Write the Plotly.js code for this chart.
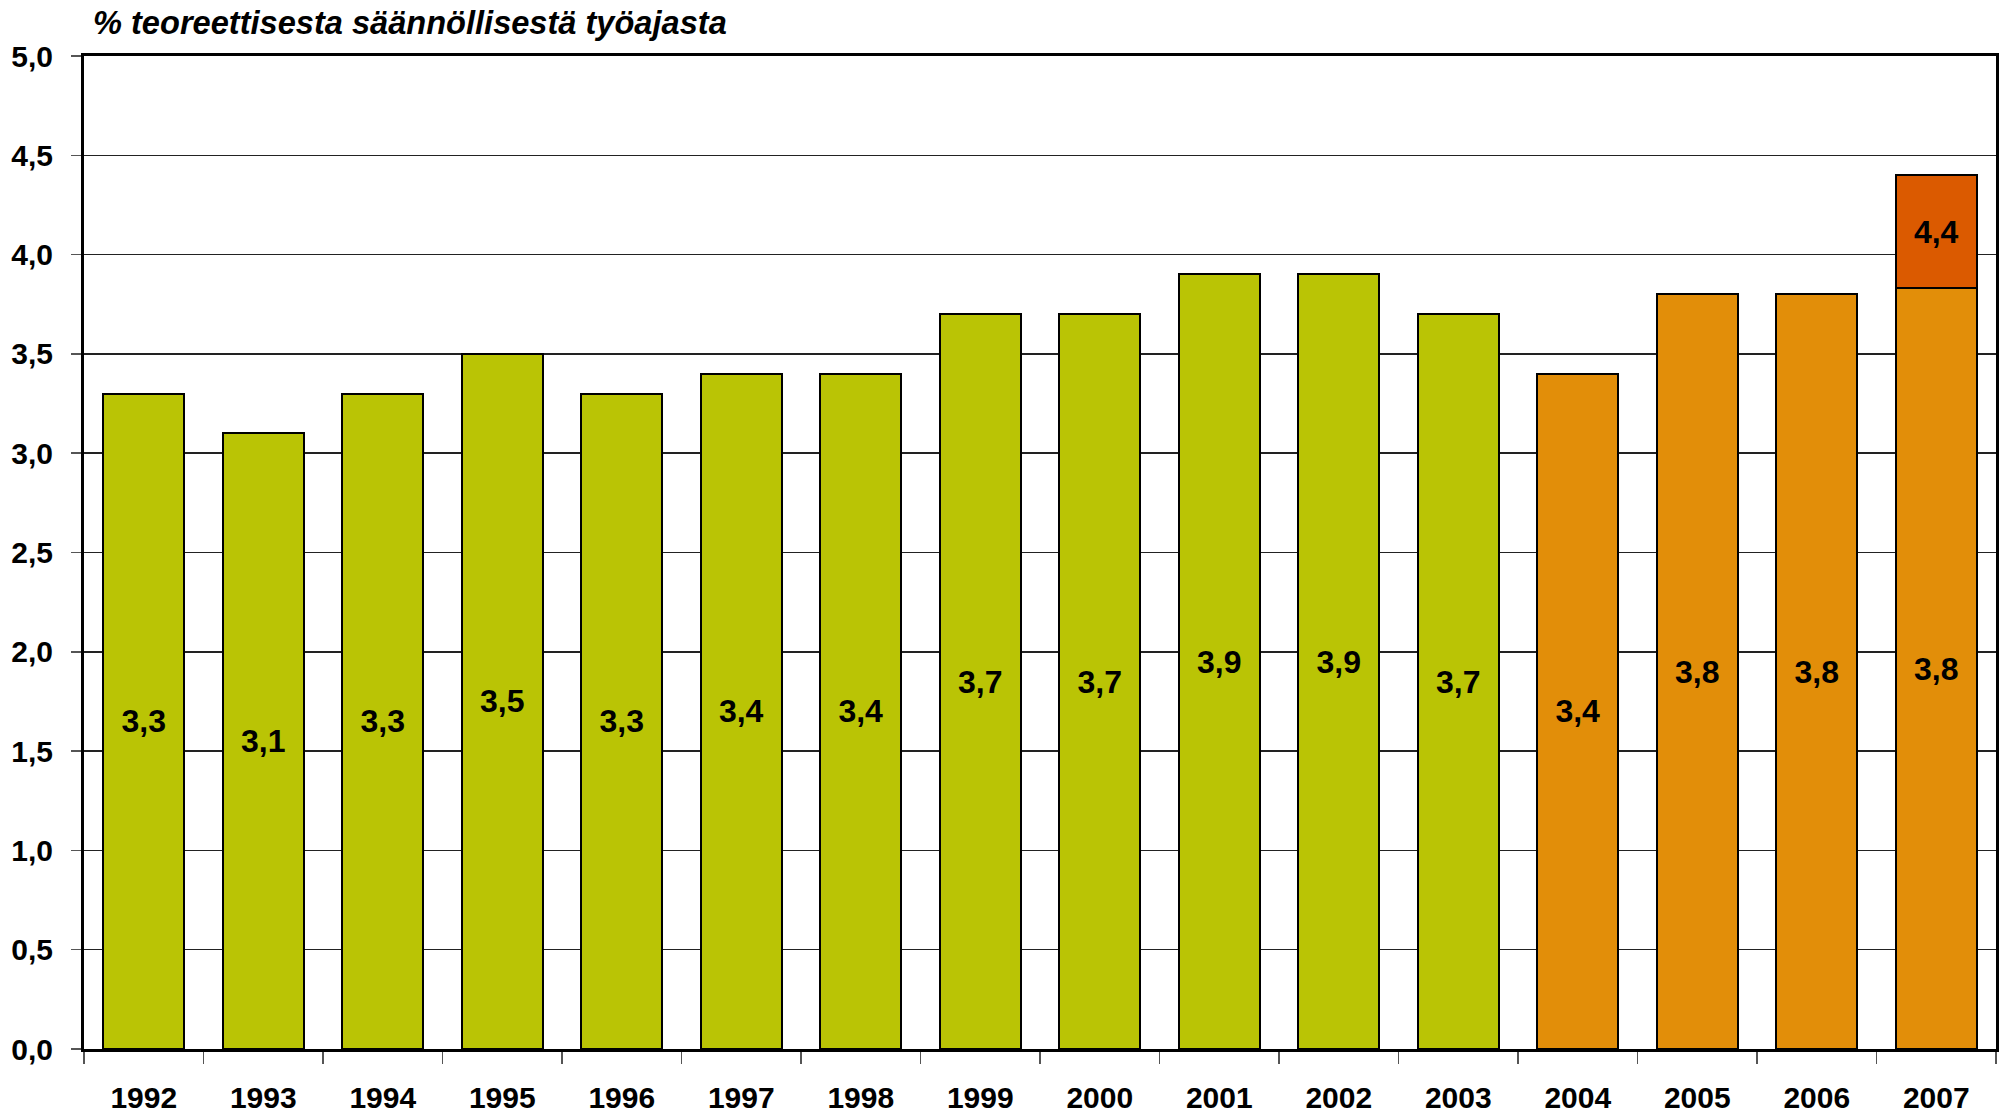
<!DOCTYPE html>
<html>
<head>
<meta charset="utf-8">
<script src="https://cdn.plot.ly/plotly-3.0.1.min.js"></script>
<style>
  html, body { margin: 0; padding: 0; background: #fff; }
  #chart { width: 2000px; height: 1114px; }
</style>
</head>
<body>
<div id="chart"></div>
<script>
var years = ['1992', '1993', '1994', '1995', '1996', '1997', '1998', '1999',
             '2000', '2001', '2002', '2003', '2004', '2005', '2006', '2007'];
var oldYears = years.slice(0, 12);
var oldValues = [3.3, 3.1, 3.3, 3.5, 3.3, 3.4, 3.4, 3.7, 3.7, 3.9, 3.9, 3.7];
var newYears = years.slice(12);
var newValues = [3.4, 3.8, 3.8, 3.83];
var extraYears = ['2007'];
var extraTotals = [4.4];
var yTicks = [0, 0.5, 1, 1.5, 2, 2.5, 3, 3.5, 4, 4.5, 5];
var titleText = '% teoreettisesta säännöllisestä työajasta';

var FONT = 'Liberation Sans, Arial, sans-serif';

function label(v) {
    return v.toFixed(1).replace('.', ',');
}

var extraValues = extraYears.map(function (y, i) {
    return extraTotals[i] - newValues[newYears.indexOf(y)];
});

function barTrace(x, y, color, text) {
    return {
        type: 'bar',
        x: x,
        y: y,
        text: text,
        textposition: 'inside',
        insidetextanchor: 'middle',
        textangle: 0,
        textfont: { family: FONT, size: 32, color: '#000', weight: 'bold' },
        marker: { color: color, line: { color: '#000', width: 2 } },
        hoverinfo: 'skip',
        showlegend: false
    };
}

var data = [
    barTrace(oldYears, oldValues, '#BAC405', oldValues.map(label)),
    barTrace(newYears, newValues, '#E28E09', newValues.map(label)),
    barTrace(extraYears, extraValues, '#DB5A00', extraTotals.map(label))
];

var layout = {
    width: 2000,
    height: 1114,
    barmode: 'stack',
    bargap: 0.32,
    separators: ', ',
    paper_bgcolor: '#fff',
    plot_bgcolor: '#fff',
    margin: { l: 84, r: 4, t: 56, b: 65 },
    font: { family: FONT, color: '#000' },
    title: {
        text: '<b><i>' + titleText + '</i></b>',
        font: { family: FONT, size: 32.6, color: '#000' },
        x: 93 / 2000,
        xanchor: 'left',
        xref: 'container',
        y: 1 - 23 / 1114,
        yanchor: 'middle'
    },
    xaxis: {
        type: 'category',
        categoryorder: 'array',
        categoryarray: years,
        showline: true,
        linecolor: '#000',
        linewidth: 3,
        mirror: true,
        ticks: 'outside',
        tickson: 'boundaries',
        ticklen: 12,
        tickcolor: '#555',
        tickwidth: 1.5,
        ticklabelstandoff: 20,
        tickfont: { family: FONT, size: 30, color: '#000', weight: 'bold' },
        showgrid: false
    },
    yaxis: {
        range: [0, 5],
        tickvals: yTicks,
        tickformat: '.1f',
        showline: true,
        linecolor: '#000',
        linewidth: 3,
        mirror: true,
        ticks: 'outside',
        ticklen: 10,
        tickcolor: '#555',
        tickwidth: 1.5,
        ticklabelstandoff: 12,
        tickfont: { family: FONT, size: 30, color: '#000', weight: 'bold' },
        showgrid: true,
        gridcolor: '#222',
        gridwidth: 1.5,
        zeroline: false
    }
};

Plotly.newPlot('chart', data, layout, { displayModeBar: false, staticPlot: true });
</script>
</body>
</html>
